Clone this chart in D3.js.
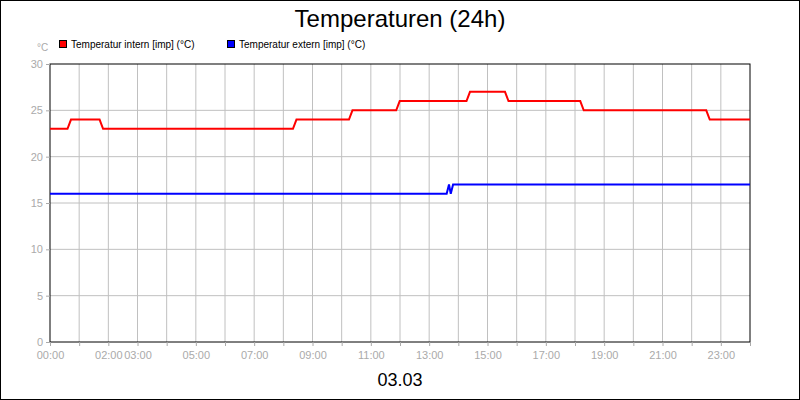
<!DOCTYPE html><html><head><script src="https://cdn.jsdelivr.net/npm/d3@7"></script>
<style>body{margin:0}text{font-family:"Liberation Sans",Arial,sans-serif}</style></head><body><svg width="800" height="400"></svg><script>
const hours=[0,0.6,0.72,1.7,1.82,8.33,8.45,10.25,10.37,11.87,11.99,14.28,14.4,15.6,15.72,18.18,18.3,22.5,22.62,24];
const intern=[23,23,24,24,23,23,24,24,25,25,26,26,27,27,26,26,25,25,24,24];
const hoursExt=[0,13.6,13.68,13.74,13.82,24];
const extern=[16,16,17,16,17,17];
const tickLabels=["00:00","02:00","03:00","05:00","07:00","09:00","11:00","13:00","15:00","17:00","19:00","21:00","23:00"];
const tickHours=[0,2,3,5,7,9,11,13,15,17,19,21,23];
const yTicks=[0,5,10,15,20,25,30];
const svg=d3.select("svg");
svg.append("rect").attr("x",0.5).attr("y",0.5).attr("width",799).attr("height",399).attr("fill","#fff").attr("stroke","#000");
const x=d3.scaleLinear().domain([0,24]).range([50,750]);
const y=d3.scaleLinear().domain([0,30]).range([342,64]);
const g=svg.append("g");
d3.range(1,24).forEach(h=>g.append("line").attr("x1",x(h)).attr("x2",x(h)).attr("y1",64).attr("y2",342).attr("stroke","#c0c0c0"));
yTicks.slice(1,-1).forEach(v=>g.append("line").attr("x1",50).attr("x2",750).attr("y1",y(v)).attr("y2",y(v)).attr("stroke","#c0c0c0"));
svg.append("rect").attr("x",50).attr("y",64).attr("width",700).attr("height",278).attr("fill","none").attr("stroke","#000");
const xa=svg.append("g").attr("transform","translate(0,342)").call(d3.axisBottom(x).tickValues(d3.range(0,25)).tickSize(4).tickFormat(d=>{const i=tickHours.indexOf(d);return i>=0?tickLabels[i]:"";}));
const ya=svg.append("g").attr("transform","translate(50,0)").call(d3.axisLeft(y).tickValues(yTicks).tickSize(4));
[xa,ya].forEach(a=>{a.select(".domain").remove();a.selectAll("line").attr("stroke","#aaa");a.selectAll("text").attr("fill","#aaa").attr("font-size",11);});
xa.selectAll("text").attr("dy","0.9em");
const line=d3.line().x(d=>x(d[0])).y(d=>y(d[1]));
svg.append("path").attr("d",line(hours.map((h,i)=>[h,intern[i]]))).attr("fill","none").attr("stroke","#f00").attr("stroke-width",2);
svg.append("path").attr("d",line(hoursExt.map((h,i)=>[h,extern[i]]))).attr("fill","none").attr("stroke","#00f").attr("stroke-width",2);
svg.append("text").attr("x",400).attr("y",27).attr("text-anchor","middle").attr("font-size",24).text("Temperaturen (24h)");
svg.append("text").attr("x",400).attr("y",386).attr("text-anchor","middle").attr("font-size",18).text("03.03");
svg.append("text").attr("x",37).attr("y",51).attr("font-size",10).attr("fill","#aaa").text("°C");
const leg=[["Temperatur intern [imp] (°C)","#f00",59],["Temperatur extern [imp] (°C)","#00f",227]];
leg.forEach(([t,c,lx])=>{svg.append("rect").attr("x",lx+0.5).attr("y",40.5).attr("width",7).attr("height",7).attr("fill",c).attr("stroke","#000");
svg.append("text").attr("x",lx+12).attr("y",48).attr("font-size",10).text(t);});
</script></body></html>
